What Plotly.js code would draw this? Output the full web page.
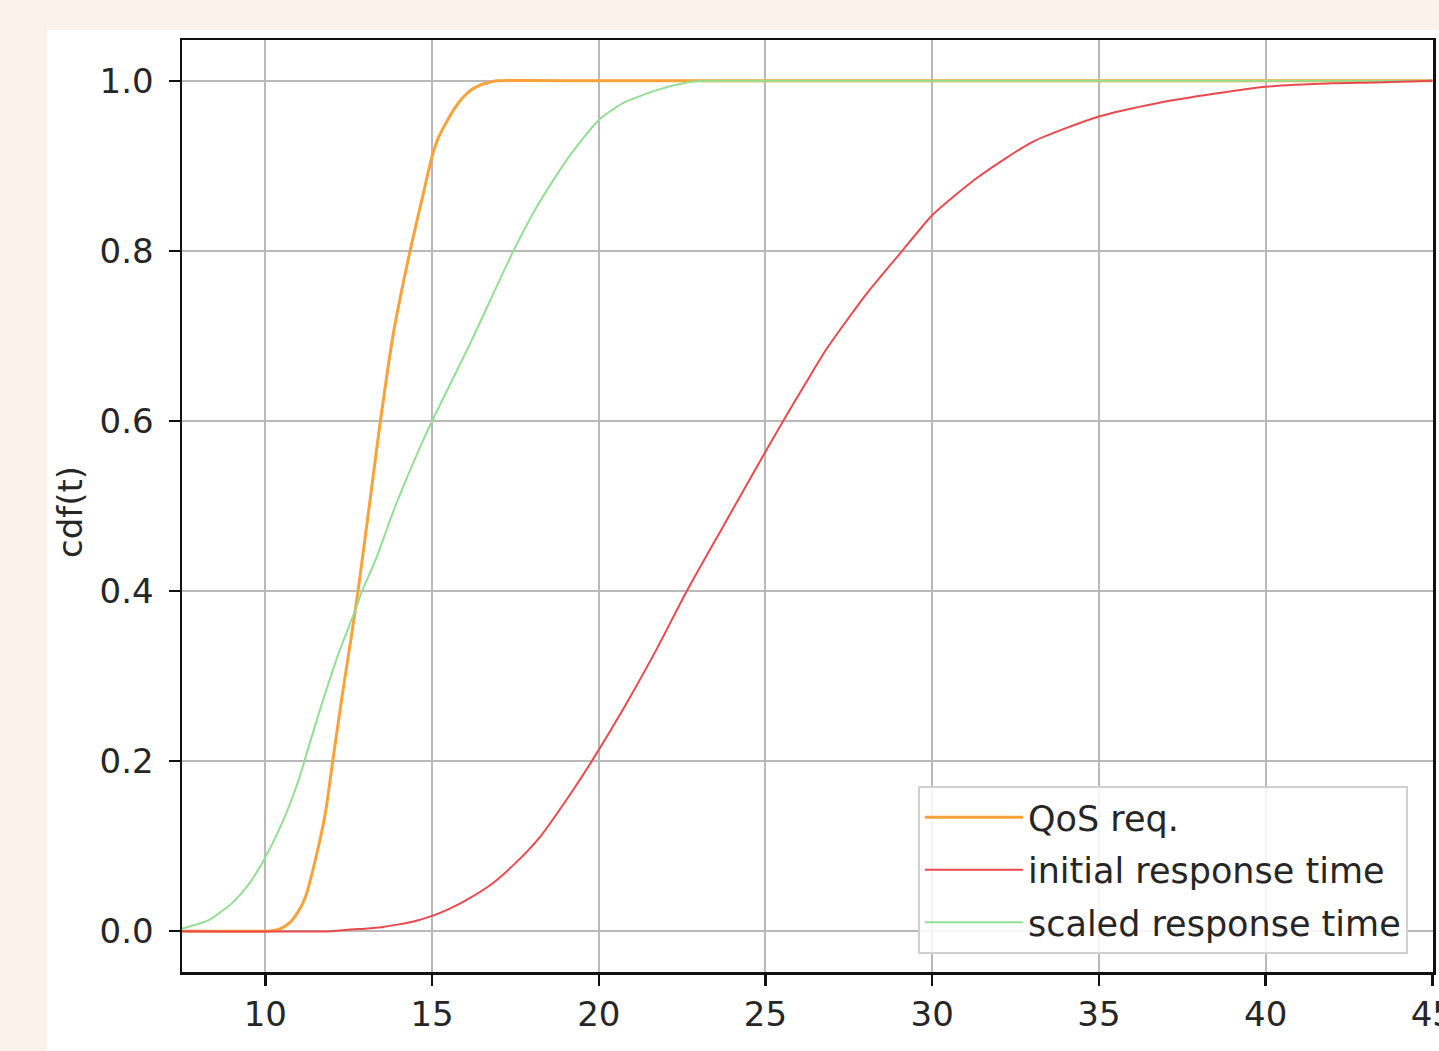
<!DOCTYPE html>
<html>
<head>
<meta charset="utf-8">
<script src="https://cdn.plot.ly/plotly-3.0.1.min.js"></script>
<style>html,body{margin:0;padding:0;background:#fcf2ec;}#chart{width:1439px;height:1051px;}</style>
</head>
<body>
<div id="chart"></div>
<script>
// QoS requirement CDF
const qosX = [7.5, 10.0, 10.2, 10.4, 10.6, 10.8, 11.0, 11.2, 11.5, 11.8, 12.02, 12.3, 12.6, 12.78, 12.95, 13.2, 13.44, 13.84, 14.34, 14.74, 15.0, 15.2, 15.44, 15.7, 15.94, 16.2, 16.44, 16.7, 16.94, 20, 25, 30, 35, 40, 45];
const qosY = [0, 0, 0.0005, 0.002, 0.006, 0.013, 0.024, 0.04, 0.084, 0.139, 0.2, 0.276, 0.352, 0.4, 0.45, 0.525, 0.597, 0.703, 0.8, 0.868, 0.911, 0.934, 0.952, 0.969, 0.981, 0.99, 0.995, 0.998, 1.0, 1, 1, 1, 1, 1, 1];

// initial response time CDF
const initX = [7.5, 12.0, 12.54, 13.0, 13.53, 14.0, 14.5, 15.0, 15.5, 16.0, 16.74, 17.5, 18.24, 19.23, 19.79, 20.73, 21.74, 22.64, 23.73, 24.84, 25.53, 26.2, 26.82, 28.0, 29.1, 30.0, 31.35, 33.0, 35.0, 36.78, 38.5, 40.0, 42.0, 43.3, 45.0];
const initY = [0, 0, 0.002, 0.003, 0.005, 0.008, 0.012, 0.018, 0.026, 0.036, 0.054, 0.08, 0.111, 0.166, 0.2, 0.261, 0.332, 0.4, 0.476, 0.553, 0.6, 0.644, 0.684, 0.748, 0.8, 0.842, 0.886, 0.928, 0.958, 0.974, 0.985, 0.993, 0.997, 0.998, 1.0];

// scaled response time CDF
const scaledX = [7.5, 8.3, 9.0, 9.5, 10.0, 10.5, 11.0, 11.3, 11.7, 12.2, 12.7, 12.9, 13.3, 13.9, 14.74, 15.0, 16.14, 17.44, 18.14, 19.04, 20.0, 20.74, 21.74, 22.64, 23.1, 25, 30, 35, 40, 45];
const scaledY = [0.003, 0.013, 0.033, 0.055, 0.087, 0.127, 0.178, 0.217, 0.268, 0.327, 0.378, 0.4, 0.436, 0.5, 0.578, 0.6, 0.691, 0.8, 0.852, 0.907, 0.954, 0.974, 0.989, 0.998, 1.0, 1, 1, 1, 1, 1];

const seriesNames = ["QoS req.", "initial response time", "scaled response time"];
const yTickVals = [0.0, 0.2, 0.4, 0.6, 0.8, 1.0];
const xTickVals = [10, 15, 20, 25, 30, 35, 40, 45];
const xTitle = "t";
const yTitle = "cdf(t)";

const font = "DejaVu Sans, sans-serif";
const txtColor = "#262626";
const traces = [
  {x: qosX, y: qosY, name: seriesNames[0], mode: "lines", legendrank: 1, legendgroup: "a",
   line: {color: "#f9a23a", width: 3, shape: "spline", smoothing: 0.6}},
  {x: scaledX, y: scaledY, name: seriesNames[2], mode: "lines", legendrank: 3, legendgroup: "c",
   line: {color: "#93de93", width: 2, shape: "spline", smoothing: 0.6}},
  {x: initX, y: initY, name: seriesNames[1], mode: "lines", legendrank: 2, legendgroup: "b",
   line: {color: "#ea4a4e", width: 2, shape: "spline", smoothing: 0.6}}
];

const axisCommon = {
  showline: true, mirror: true, linecolor: "#111", linewidth: 2.5,
  ticks: "outside", ticklen: 11, tickwidth: 2.5, tickcolor: "#111",
  showgrid: true, gridcolor: "#b9b9b9", gridwidth: 2,
  zeroline: false, ticklabeloverflow: "allow",
  tickfont: {family: font, size: 34, color: txtColor}
};

const layout = {
  width: 1439, height: 1051,
  paper_bgcolor: "#fcf2ec", plot_bgcolor: "#ffffff",
  margin: {l: 182, r: 6, t: 40, b: 79, autoexpand: false},
  showlegend: true,
  xaxis: Object.assign({}, axisCommon, {
    range: [7.5, 45.02], tickvals: xTickVals, ticktext: xTickVals.map(String),
    ticklabelstandoff: 0, automargin: false
  }),
  yaxis: Object.assign({}, axisCommon, {
    range: [-0.048, 1.048], tickvals: yTickVals, ticktext: yTickVals.map(v => v.toFixed(1)),
    ticklabelstandoff: 8, automargin: false
  }),
  legend: {
    x: 0.5883, y: 0.1996, xanchor: "left", yanchor: "top",
    bgcolor: "rgba(255,255,255,0.85)", bordercolor: "#d0d0d0", borderwidth: 2,
    font: {family: font, size: 35, color: txtColor},
    itemwidth: 98, tracegroupgap: 4
  },
  annotations: [
    {text: yTitle, xref: "paper", yref: "paper", x: -0.0895, y: 0.4936,
     xanchor: "center", yanchor: "middle", textangle: -90, showarrow: false,
     font: {family: font, size: 34, color: txtColor}},
    {text: xTitle, xref: "paper", yref: "paper", x: 0.5, y: -0.074,
     xanchor: "center", yanchor: "top", showarrow: false,
     font: {family: font, size: 34, color: txtColor}}
  ],
  shapes: [
    {type: "rect", xref: "paper", yref: "paper", layer: "below",
     x0: -0.1079, x1: 1.2, y0: -0.2, y1: 1.0107,
     fillcolor: "#ffffff", line: {width: 0}}
  ]
};

Plotly.newPlot("chart", traces, layout, {displayModeBar: false, staticPlot: true});
</script>
</body>
</html>
